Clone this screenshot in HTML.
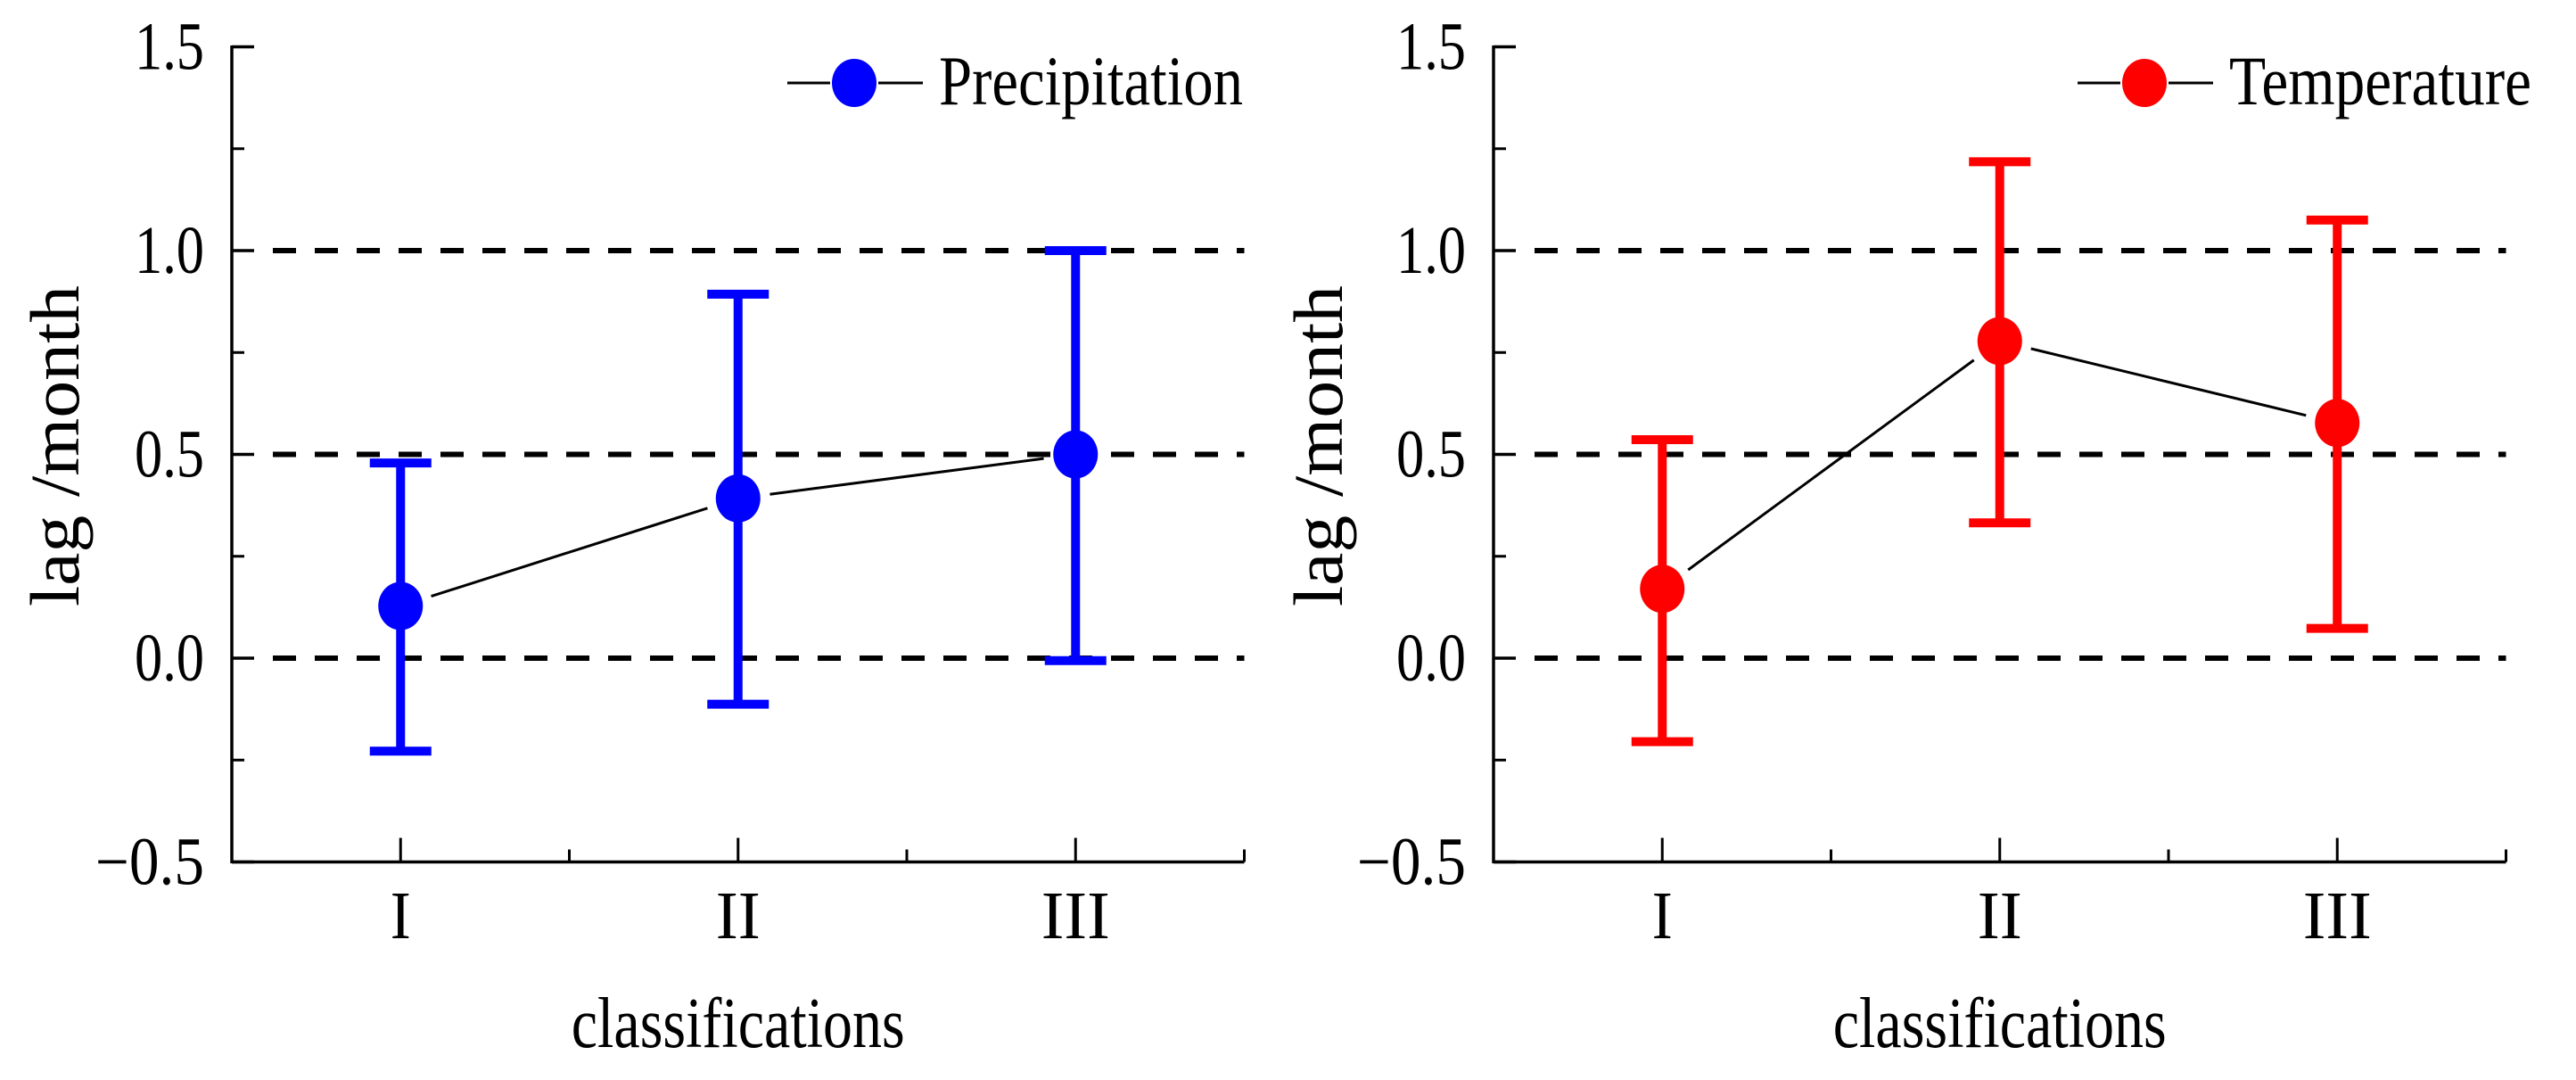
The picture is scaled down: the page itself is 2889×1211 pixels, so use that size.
<!DOCTYPE html>
<html><head><meta charset="utf-8">
<style>
html,body{margin:0;padding:0;background:#fff;}
svg{display:block;}
text{font-family:"Liberation Serif","Times New Roman",serif;fill:#000;}
</style></head>
<body>
<svg id="chart" width="2889" height="1211" viewBox="0 0 2889 1211" xmlns="http://www.w3.org/2000/svg"></svg>
<script>
const categories = ["I", "II", "III"];
const precipMean = [0.128, 0.392, 0.500];
const precipUpper = [0.479, 0.893, 1.000];
const precipLower = [-0.228, -0.113, -0.006];
const tempMean = [0.170, 0.778, 0.577];
const tempUpper = [0.536, 1.218, 1.075];
const tempLower = [-0.205, 0.332, 0.073];
const yTicks = [1.5, 1.0, 0.5, 0.0, -0.5];
const yTickLabels = ["1.5", "1.0", "0.5", "0.0", "\u22120.5"];
const yMinorTicks = [1.25, 0.75, 0.25, -0.25];
const refLines = [1.0, 0.5, 0.0];

const NS = "http://www.w3.org/2000/svg";
const svg = document.getElementById("chart");
function mk(tag, attrs, parent) {
  const e = document.createElementNS(NS, tag);
  for (const k in attrs) e.setAttribute(k, attrs[k]);
  (parent || svg).appendChild(e);
  return e;
}
function yScale(v) { return 738 - v * 457; }

function panel(opts) {
  const g = mk("g", {});
  
  
  const x0 = opts.axisX, band = 378.5, x1 = x0 + 3 * band;
  const xScale = i => x0 + band * (i + 0.5);
  const yBottom = yScale(-0.5), yTop = yScale(1.5);

  refLines.forEach(v => {
    const l = mk("line", {x1: x0 + 46, x2: x1, y1: yScale(v), y2: yScale(v), stroke: "#000", "stroke-width": 6, "stroke-dasharray": "26 21"}, g);
    
    
  });

  const ya = mk("line", {x1: x0, x2: x0, y1: yTop - 1.5, y2: yBottom + 1.5, stroke: "#000", "stroke-width": 3.5}, g);
  
  
  const xa = mk("line", {x1: x0, x2: x1, y1: yBottom, y2: yBottom, stroke: "#000", "stroke-width": 3.5}, g);
  
  
  mk("line", {x1: x1, x2: x1, y1: yBottom, y2: yBottom - 14, stroke: "#000", "stroke-width": 3}, g);

  yTicks.forEach((v, i) => {
    mk("line", {x1: x0, x2: x0 + 25, y1: yScale(v), y2: yScale(v), stroke: "#000", "stroke-width": 3.5}, g);
    const lbl = yTickLabels[i];
    const t = mk("text", {x: x0 - 31, y: yScale(v) + 25, "font-size": 76, "text-anchor": "end", textLength: lbl.length > 3 ? 122 : 78, lengthAdjust: "spacingAndGlyphs"}, g);
    t.textContent = lbl;
    
    
  });
  yMinorTicks.forEach(v => {
    mk("line", {x1: x0, x2: x0 + 14, y1: yScale(v), y2: yScale(v), stroke: "#000", "stroke-width": 3}, g);
  });
  categories.forEach((c, i) => {
    mk("line", {x1: xScale(i), x2: xScale(i), y1: yBottom, y2: yBottom - 27, stroke: "#000", "stroke-width": 3}, g);
    if (i < categories.length - 1) mk("line", {x1: x0 + band * (i + 1), x2: x0 + band * (i + 1), y1: yBottom, y2: yBottom - 14, stroke: "#000", "stroke-width": 3}, g);
    const t = mk("text", {x: xScale(i), y: 1052, "font-size": 76, "text-anchor": "middle", textLength: 23 * c.length + 4 * (c.length - 1), lengthAdjust: "spacingAndGlyphs"}, g);
    t.textContent = c;
    
    
  });

  const xt = mk("text", {x: xScale(1), y: 1174, "font-size": 80, "text-anchor": "middle", textLength: 374, lengthAdjust: "spacingAndGlyphs"}, g);
  xt.textContent = "classifications";
  
  
  const yt = mk("text", {x: 0, y: 0, "font-size": 78, "text-anchor": "middle", textLength: 360, lengthAdjust: "spacingAndGlyphs", transform: `translate(${opts.yTitleX},500) rotate(-90)`}, g);
  yt.textContent = "lag /month";
  
  

  for (let i = 0; i < categories.length - 1; i++) {
    const ax = xScale(i), ay = yScale(opts.mean[i]), bx = xScale(i + 1), by = yScale(opts.mean[i + 1]);
    const dx = bx - ax, dy = by - ay, L = Math.hypot(dx, dy), gap = 36;
    const s = mk("line", {x1: ax + dx * gap / L, y1: ay + dy * gap / L, x2: bx - dx * gap / L, y2: by - dy * gap / L, stroke: "#000", "stroke-width": 3}, g);
    
    
  }
  categories.forEach((c, i) => {
    const x = xScale(i);
    const eb = mk("g", {}, g);
    
    
    mk("line", {x1: x, x2: x, y1: yScale(opts.upper[i]), y2: yScale(opts.lower[i]), stroke: opts.color, "stroke-width": 10}, eb);
    mk("line", {x1: x - 34.5, x2: x + 34.5, y1: yScale(opts.upper[i]), y2: yScale(opts.upper[i]), stroke: opts.color, "stroke-width": 10}, eb);
    mk("line", {x1: x - 34.5, x2: x + 34.5, y1: yScale(opts.lower[i]), y2: yScale(opts.lower[i]), stroke: opts.color, "stroke-width": 10}, eb);
    const m = mk("ellipse", {cx: x, cy: yScale(opts.mean[i]), rx: 25, ry: 27, fill: opts.color}, g);
    
    
  });

  const lg = mk("g", {}, g);
  
  
  const lx = opts.legendX;
  mk("line", {x1: lx, x2: lx + 48, y1: 93, y2: 93, stroke: "#000", "stroke-width": 3}, lg);
  mk("line", {x1: lx + 102, x2: lx + 152, y1: 93, y2: 93, stroke: "#000", "stroke-width": 3}, lg);
  mk("ellipse", {cx: lx + 75, cy: 93, rx: 25, ry: 27, fill: opts.color}, lg);
  const lt = mk("text", {x: lx + 170, y: 117, "font-size": 78, textLength: opts.legendLen, lengthAdjust: "spacingAndGlyphs"}, lg);
  lt.textContent = opts.label;
}

panel({name: "precipitation-panel", axisX: 260, yTitleX: 88, color: "#0000ff", mean: precipMean, upper: precipUpper, lower: precipLower, legendX: 883, label: "Precipitation", legendLen: 341});
panel({name: "temperature-panel", axisX: 1675, yTitleX: 1505, color: "#ff0000", mean: tempMean, upper: tempUpper, lower: tempLower, legendX: 2330, label: "Temperature", legendLen: 339});
</script>
</body></html>
